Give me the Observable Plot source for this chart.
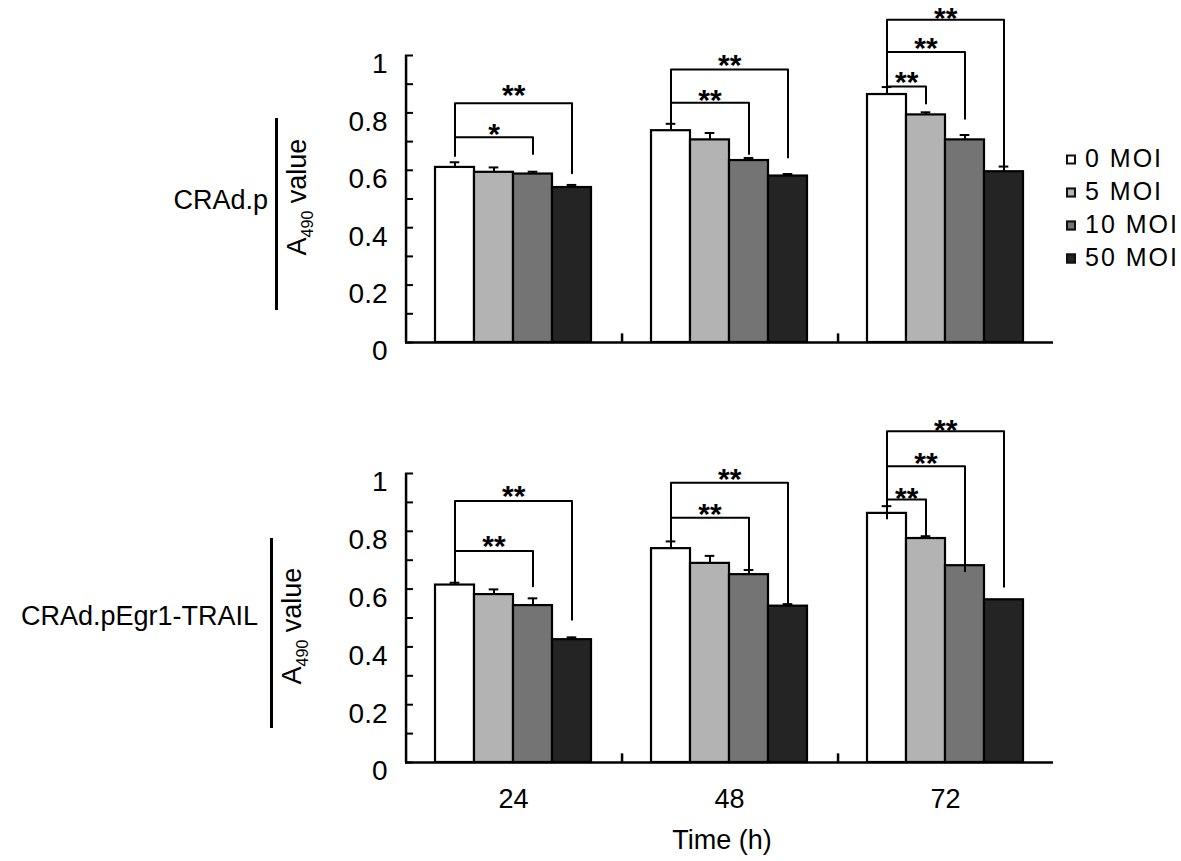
<!DOCTYPE html>
<html>
<head>
<meta charset="utf-8">
<script src="https://cdn.jsdelivr.net/npm/d3@7"></script>
<script src="https://cdn.jsdelivr.net/npm/@observablehq/plot@0.6"></script>
<style>
  body { margin: 0; background: #fff; }
  #fig { position: relative; width: 1181px; height: 861px; overflow: hidden;
         font-family: "Liberation Sans", Arial, sans-serif; color: #000; }
  #fig svg { position: absolute; left: 0; }
  .lab { position: absolute; white-space: nowrap; line-height: 1; font-size: 27px; }
  .vline { position: absolute; width: 2.5px; background: #000; }
  .rot { position: absolute; white-space: nowrap; line-height: 1; font-size: 27px;
         transform: translate(-50%, -50%) rotate(-90deg); }
  .rot sub { font-size: 16px; vertical-align: -7px; }
  .leg { position: absolute; left: 1066px; font-size: 25px; letter-spacing: 2px;
         white-space: nowrap; line-height: 1; transform: translateY(-50%); }
  .leg span { display: inline-block; width: 6px; height: 6px; border: 2px solid #111;
              margin-right: 9px; vertical-align: 2px; }
</style>
</head>
<body>
<div id="fig"></div>
<script>
const times = ['24', '48', '72']
const mois = ['0 MOI', '5 MOI', '10 MOI', '50 MOI']
const colors = ['#ffffff', '#b3b3b3', '#747474', '#242424']

// CRAd.p  (rows = MOI, columns = 24/48/72 h)
const pValues = [
  [0.61, 0.738, 0.864],
  [0.593, 0.706, 0.793],
  [0.587, 0.634, 0.706],
  [0.54, 0.58, 0.595]
]
const pErrors = [
  [0.018, 0.024, 0.026],
  [0.017, 0.024, 0.009],
  [0.008, 0.009, 0.017],
  [0.009, 0.007, 0.018]
]
// CRAd.pEgr1-TRAIL
const tValues = [
  [0.614, 0.74, 0.862],
  [0.581, 0.689, 0.775],
  [0.543, 0.65, 0.681],
  [0.425, 0.541, 0.563]
]
const tErrors = [
  [0.008, 0.025, 0.025],
  [0.018, 0.026, 0.008],
  [0.025, 0.016, 0],
  [0.008, 0.007, 0]
]

// significance brackets: time, from, to, bracket height, left foot, right foot, stars, star height
const pBrackets = [
  ['24', '0 MOI', '10 MOI', 0.715, 0.65, 0.657, '*', 0.752],
  ['24', '0 MOI', '50 MOI', 0.834, 0.715, 0.59, '**', 0.89],
  ['48', '0 MOI', '10 MOI', 0.835, 0.762, 0.657, '**', 0.872],
  ['48', '0 MOI', '50 MOI', 0.951, 0.835, 0.645, '**', 0.992],
  ['72', '0 MOI', '5 MOI', 0.892, 0.89, 0.833, '**', 0.935],
  ['72', '0 MOI', '10 MOI', 1.012, 0.892, 0.78, '**', 1.052],
  ['72', '0 MOI', '50 MOI', 1.125, 1.012, 0.61, '**', 1.158]
]
const tBrackets = [
  ['24', '0 MOI', '10 MOI', 0.732, 0.623, 0.61, '**', 0.774],
  ['24', '0 MOI', '50 MOI', 0.905, 0.732, 0.494, '**', 0.947],
  ['48', '0 MOI', '10 MOI', 0.847, 0.765, 0.666, '**', 0.887],
  ['48', '0 MOI', '50 MOI', 0.968, 0.847, 0.55, '**', 1.006],
  ['72', '0 MOI', '5 MOI', 0.91, 0.844, 0.783, '**', 0.942],
  ['72', '0 MOI', '10 MOI', 1.025, 0.91, 0.662, '**', 1.061],
  ['72', '0 MOI', '50 MOI', 1.146, 1.025, 0.608, '**', 1.176]
]

const yMajor = [0, 0.2, 0.4, 0.6, 0.8, 1]
const yMinor = d3.range(0, 11).map(i => i / 10)

const W = 1181, ML = 405, MR = 128
const PO = 0.743   // outer padding of the MOI bands inside a time group
const facetW = (W - ML - MR) / times.length
const step = facetW / (mois.length + 2 * PO)
const edge = PO * step + step / 2

function makeChart(values, errors, brackets, {height, marginTop, marginBottom, bottomAxis}) {
  const data = mois.flatMap((m, i) => times.map((t, j) =>
    ({moi: m, time: t, value: values[i][j], err: errors[i][j]})))
  const withErr = data.filter(d => d.err > 0)

  const pts = brackets.flatMap(([time, from, to, level, lf, rf], k) =>
    [[from, lf], [from, level], [to, level], [to, rf]].map(([moi, v]) => ({id: k, time, moi, v})))

  const stars = brackets.map(([time, from, to, , , , label, ly]) => {
    const mid = (mois.indexOf(from) + mois.indexOf(to)) / 2
    return {time, moi: mois[Math.floor(mid)], half: mid % 1 !== 0, label, ly}
  })
  const starStyle = {fx: 'time', x: 'moi', y: 'ly', text: 'label', fontSize: 30, fontWeight: 'bold', dy: 8}

  const marks = [
    Plot.barY(data, {fx: 'time', x: 'moi', y: 'value', fill: 'moi', stroke: '#000', strokeWidth: 2.2}),
    Plot.ruleX(withErr, {fx: 'time', x: 'moi', y1: 'value', y2: d => d.value + d.err, strokeWidth: 2}),
    Plot.tickY(withErr, {fx: 'time', x: 'moi', y: d => d.value + d.err,
      insetLeft: (step - 10) / 2, insetRight: (step - 10) / 2, strokeWidth: 2}),
    Plot.line(pts, {fx: 'time', x: 'moi', y: 'v', z: 'id', stroke: '#000', strokeWidth: 2}),
    Plot.text(stars.filter(d => !d.half), starStyle),
    Plot.text(stars.filter(d => d.half), {...starStyle, dx: step / 2}),
    // axes
    Plot.ruleY([0], {strokeWidth: 2.5}),
    Plot.ruleX([{time: '24'}], {fx: 'time', x: () => mois[0], y1: 0, y2: 1, dx: -edge, strokeWidth: 2.5}),
    Plot.ruleX([{time: '48'}, {time: '72'}], {fx: 'time', x: () => mois[0], y1: 0, y2: 0.03, dx: -edge, strokeWidth: 2.5}),
    Plot.tickY(yMinor.map(v => ({v, time: '24'})), {fx: 'time', y: 'v', insetRight: facetW - 8, strokeWidth: 2}),
    Plot.axisY(yMajor, {tickSize: 0, tickPadding: 18, fontSize: 28, dy: 9, label: null, tickFormat: d => String(d)})
  ]
  if (bottomAxis) marks.push(Plot.axisFx({anchor: 'bottom', tickSize: 0, tickPadding: 26, fontSize: 27, label: null}))

  return Plot.plot({
    width: W,
    height,
    marginLeft: ML,
    marginRight: MR,
    marginTop,
    marginBottom,
    fx: {domain: times, padding: 0, axis: bottomAxis ? undefined : null},
    x: {domain: mois, paddingInner: 0, paddingOuter: PO, axis: null},
    y: {domain: [0, 1]},
    color: {domain: mois, range: colors},
    style: {fontFamily: '"Liberation Sans", Arial, sans-serif', fontSize: '27px', overflow: 'visible', background: 'transparent'},
    marks
  })
}

const fig = d3.select('#fig')

const chartP = makeChart(pValues, pErrors, pBrackets, {height: 360, marginTop: 55, marginBottom: 18, bottomAxis: false})
chartP.style.top = '0px'
fig.append(() => chartP)

const chartT = makeChart(tValues, tErrors, tBrackets, {height: 501, marginTop: 113, marginBottom: 99, bottomAxis: true})
chartT.style.top = '360px'
fig.append(() => chartT)

// panel labels
const panels = [
  {name: 'CRAd.p', right: 268, cy: 200, lineX: 275, y1: 118, y2: 310, rx: 300, ry: 197},
  {name: 'CRAd.pEgr1-TRAIL', right: 258, cy: 616, lineX: 270, y1: 538, y2: 728, rx: 295, ry: 626}
]
panels.forEach(p => {
  fig.append('div').attr('class', 'lab')
    .style('left', '0px').style('width', p.right + 'px').style('text-align', 'right')
    .style('top', p.cy + 'px').style('transform', 'translateY(-50%)')
    .text(p.name)
  fig.append('div').attr('class', 'vline')
    .style('left', p.lineX + 'px').style('top', p.y1 + 'px').style('height', (p.y2 - p.y1) + 'px')
  fig.append('div').attr('class', 'rot')
    .style('left', p.rx + 'px').style('top', p.ry + 'px')
    .html('A<sub>490</sub> value')
})

fig.append('div').attr('class', 'lab')
  .style('left', '722px').style('top', '840px').style('font-size', '27px')
  .style('transform', 'translate(-50%, -50%)')
  .text('Time (h)')

// legend
const legY = [158, 191, 224, 257]
mois.forEach((m, i) => {
  const item = fig.append('div').attr('class', 'leg').style('top', legY[i] + 'px')
  item.append('span').style('background', colors[i])
  item.append('text').text(m)
})
</script>
</body>
</html>
